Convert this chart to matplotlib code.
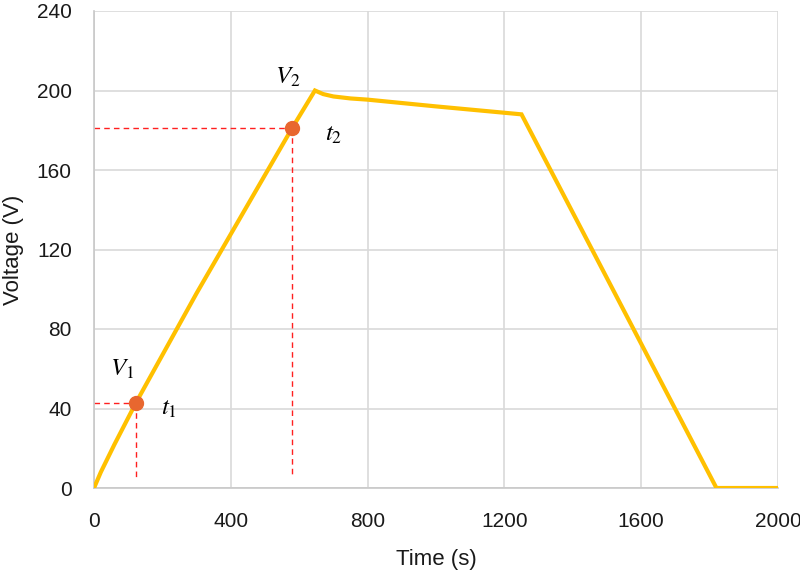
import matplotlib

matplotlib.use("Agg")
import matplotlib.pyplot as plt

# Charging / discharging voltage profile
time_s = [0, 20, 60, 123, 300, 579, 646, 670, 700, 750, 800, 1000, 1250, 1820, 2000]
voltage = [0, 8, 22, 43, 98, 181, 200, 198.2, 197, 196, 195.4, 192, 188, 0, 0]

# Marked points
point_t = [123, 579]
point_v = [43, 181]
point_labels = [("V", "1", "t", "1"), ("V", "2", "t", "2")]

x_ticks = [0, 400, 800, 1200, 1600, 2000]
y_ticks = [0, 40, 80, 120, 160, 200, 240]

_LINE = "#ffc000"
_MARK = "#e8672f"
_GRID = "#d9d9d9"
_TEXT = "#1a1a1a"

plt.rcParams["font.family"] = ["Liberation Sans", "DejaVu Sans"]
plt.rcParams["mathtext.fontset"] = "stix"

fig = plt.figure(figsize=(8.0, 5.74), dpi=100)
ax = fig.add_axes([94 / 800, 1 - 488 / 574, (778 - 94) / 800, (488 - 11) / 574])

ax.plot(time_s, voltage, color=_LINE, linewidth=3, solid_joinstyle="miter", zorder=3)

for t, v in zip(point_t, point_v):
    ax.plot([0, t], [v, v], color="#ff2020", linestyle=(0, (4, 3)), linewidth=1, zorder=2)
    ax.plot([t, t], [v, 5], color="#ff2020", linestyle=(0, (4, 3)), linewidth=1, zorder=2)
ax.plot(point_t, point_v, "o", color=_MARK, markersize=10, zorder=4)

# V / t labels (Times-like italic with italic subscript)
label_offsets = [((-10, 24), (24, -4)), ((-3, 37), (30, -4))]
for (t, v), (vl, vs, tl, ts), (voff, toff) in zip(zip(point_t, point_v), point_labels, label_offsets):
    ax.annotate(rf"$\mathit{{{vl}}}_{{\mathit{{{vs}}}}}$", (t, v), xytext=voff,
                textcoords="offset points", ha="center", va="center", fontsize=18, color="black")
    ax.annotate(rf"$\mathit{{{tl}}}_{{\mathit{{{ts}}}}}$", (t, v), xytext=toff,
                textcoords="offset points", ha="center", va="center", fontsize=18, color="black")

ax.set_xlim(0, 2000)
ax.set_ylim(0, 240)
ax.set_xticks(x_ticks)
ax.set_yticks(y_ticks)
ax.grid(True, color=_GRID, linewidth=1.2)
ax.set_axisbelow(True)
for side in ("top", "right"):
    ax.spines[side].set_visible(False)
for side in ("left", "bottom"):
    ax.spines[side].set_color("#c8c8c8")
    ax.spines[side].set_linewidth(1.2)
ax.tick_params(length=0, labelsize=15, colors=_TEXT)
ax.tick_params(axis="y", pad=16)
ax.tick_params(axis="x", pad=17)
ax.set_xlabel("Time (s)", fontsize=16, color=_TEXT, labelpad=13)
ax.set_ylabel("Voltage (V)", fontsize=16, color=_TEXT, labelpad=9)

fig.savefig("out.png", dpi=100, facecolor="white")
